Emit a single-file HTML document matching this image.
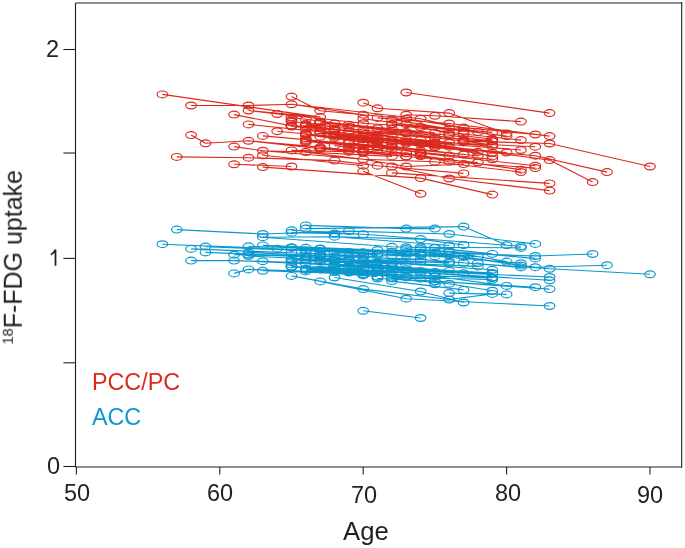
<!DOCTYPE html>
<html><head><meta charset="utf-8"><style>
html,body{margin:0;padding:0;background:#fff;}
body{width:685px;height:548px;position:relative;overflow:hidden;font-family:"Liberation Sans",sans-serif;color:#231f20;}
svg{position:absolute;left:0;top:0;}
.t{position:absolute;white-space:nowrap;line-height:1;will-change:transform;}
</style></head><body>
<svg width="685" height="548" viewBox="0 0 685 548"><rect width="685" height="548" fill="#fff"/><path d="M162.4 94.4L320.2 117.1M191.1 105.5L248.5 105.5M248.5 105.5L291.5 104.3M234.1 114.6L291.5 125.9M191.1 135.1L205.5 143.3M205.5 143.3L248.5 140.8M234.1 146.6L262.8 150.7M176.8 156.9L248.5 157.7M234.1 164.3L291.5 166.5M406.2 92.5L549.6 113.1M549.6 143.5L650.0 166.5M535.3 155.7L607.0 172.1M549.6 160.1L592.6 182.1M363.2 171.3L420.6 193.8M420.6 178.1L492.3 194.6M449.2 178.5L549.6 190.6M391.9 172.9L549.6 183.4M291.5 96.6L320.2 110.7M363.2 102.7L377.5 108.3M377.5 108.3L449.2 113.1M248.5 110.5L277.2 114.0M248.5 124.4L363.2 136.1M248.5 140.8L320.2 148.8M248.5 157.7L334.5 160.6M262.8 135.9L363.2 144.8M262.8 150.7L363.2 159.3M262.8 155.3L363.2 165.7M262.8 167.1L420.6 178.1M277.2 114.0L363.2 123.2M277.2 131.2L363.2 139.2M291.5 104.3L420.6 118.7M291.5 117.5L348.9 124.7M291.5 125.6L334.5 128.9M291.5 150.4L348.9 151.8M305.8 124.0L363.2 130.3M305.8 124.6L334.5 129.2M305.8 126.1L363.2 132.3M305.8 129.0L377.5 136.2M305.8 133.8L377.5 140.8M305.8 134.9L377.5 141.8M305.8 139.9L377.5 147.3M305.8 140.8L377.5 146.3M305.8 141.4L391.9 149.2M305.8 152.0L391.9 156.4M320.2 110.7L363.2 114.7M320.2 121.7L377.5 128.2M320.2 121.8L391.9 128.8M320.2 121.9L406.2 133.2M320.2 122.7L449.2 135.3M320.2 127.3L348.9 131.3M320.2 127.4L391.9 136.4M320.2 132.1L391.9 140.1M320.2 133.2L377.5 139.6M320.2 136.7L363.2 142.0M320.2 147.1L363.2 152.0M320.2 148.2L363.2 152.8M320.2 148.8L348.9 150.0M334.5 129.2L377.5 135.5M334.5 129.3L434.9 138.1M334.5 134.8L377.5 140.3M334.5 135.4L391.9 141.3M334.5 136.4L391.9 143.2M334.5 138.0L434.9 146.8M334.5 145.6L406.2 153.2M334.5 160.6L377.5 165.7M348.9 124.7L406.2 131.9M348.9 131.3L434.9 142.5M348.9 143.0L391.9 146.9M348.9 143.4L391.9 146.4M348.9 146.7L420.6 155.5M348.9 147.7L377.5 150.0M348.9 150.0L406.2 156.4M363.2 114.7L406.2 118.7M363.2 118.7L406.2 124.2M363.2 123.2L420.6 127.0M363.2 130.3L434.9 137.8M363.2 136.1L420.6 143.2M363.2 139.2L406.2 142.6M363.2 142.0L420.6 150.9M363.2 144.8L420.6 152.4M363.2 150.8L420.6 156.0M363.2 152.8L406.2 156.5M363.2 159.3L406.2 166.5M377.5 117.9L449.2 123.5M377.5 135.5L420.6 139.9M377.5 137.8L434.9 144.3M377.5 140.3L406.2 141.5M377.5 141.8L477.9 151.8M377.5 146.3L463.6 154.5M377.5 147.3L449.2 155.6M377.5 165.7L463.6 173.4M391.9 119.5L449.2 128.9M391.9 124.0L463.6 130.9M391.9 124.5L463.6 134.0M391.9 128.8L434.9 132.8M391.9 136.4L434.9 143.2M391.9 140.1L434.9 145.4M391.9 141.3L434.9 147.2M391.9 143.2L420.6 144.6M391.9 146.4L477.9 156.0M391.9 166.5L449.2 178.5M406.2 114.7L434.9 115.8M406.2 118.7L463.6 127.6M406.2 124.2L492.3 132.4M406.2 131.9L463.6 139.6M406.2 133.2L463.6 141.2M406.2 142.6L449.2 146.7M406.2 143.6L449.2 142.7M406.2 156.5L477.9 162.5M406.2 166.5L463.6 164.1M420.6 118.7L477.9 131.9M420.6 127.0L449.2 133.7M420.6 139.9L492.3 146.4M420.6 144.6L506.6 152.5M420.6 152.4L492.3 159.3M420.6 153.3L535.3 165.7M420.6 155.5L520.9 169.7M420.6 156.0L449.2 161.7M434.9 115.8L520.9 121.6M434.9 137.8L492.3 144.7M434.9 143.2L520.9 150.0M434.9 144.3L492.3 152.8M434.9 145.4L492.3 156.4M434.9 147.2L535.3 155.7M434.9 161.7L520.9 172.1M449.2 113.1L506.6 133.5M449.2 123.5L549.6 136.1M449.2 128.9L506.6 136.1M449.2 133.7L492.3 139.3M449.2 135.3L492.3 141.2M449.2 142.7L535.3 146.7M449.2 146.7L549.6 160.1M449.2 161.7L535.3 168.1M463.6 127.6L535.3 134.5M463.6 134.0L520.9 140.1M463.6 139.6L492.3 140.9M463.6 141.1L549.6 143.5M463.6 141.5L492.3 139.4M248.5 110.5L320.2 117.1M248.5 140.8L320.2 147.1M262.8 150.7L305.8 152.0M291.5 104.3L363.2 114.7M291.5 121.7L348.9 126.8M291.5 126.5L348.9 131.3M291.5 150.4L363.2 159.3M305.8 141.4L377.5 146.3M320.2 148.8L363.2 152.8M348.9 140.9L420.6 144.6M363.2 130.3L406.2 133.2M363.2 132.3L434.9 137.8M363.2 136.1L434.9 143.2M363.2 159.3L434.9 161.7M391.9 124.5L449.2 128.9M391.9 149.2L449.2 155.6" stroke="#dc2a1f" stroke-width="1.1" fill="none"/>
<g stroke="#dc2a1f" stroke-width="1.2" fill="none"><ellipse cx="162.4" cy="94.4" rx="5.3" ry="3.4"/><ellipse cx="176.8" cy="156.9" rx="5.3" ry="3.4"/><ellipse cx="191.1" cy="105.5" rx="5.3" ry="3.4"/><ellipse cx="191.1" cy="135.1" rx="5.3" ry="3.4"/><ellipse cx="205.5" cy="143.3" rx="5.3" ry="3.4"/><ellipse cx="234.1" cy="114.6" rx="5.3" ry="3.4"/><ellipse cx="234.1" cy="146.6" rx="5.3" ry="3.4"/><ellipse cx="234.1" cy="164.3" rx="5.3" ry="3.4"/><ellipse cx="248.5" cy="105.5" rx="5.3" ry="3.4"/><ellipse cx="248.5" cy="110.5" rx="5.3" ry="3.4"/><ellipse cx="248.5" cy="124.4" rx="5.3" ry="3.4"/><ellipse cx="248.5" cy="140.8" rx="5.3" ry="3.4"/><ellipse cx="248.5" cy="157.7" rx="5.3" ry="3.4"/><ellipse cx="262.8" cy="135.9" rx="5.3" ry="3.4"/><ellipse cx="262.8" cy="150.7" rx="5.3" ry="3.4"/><ellipse cx="262.8" cy="155.3" rx="5.3" ry="3.4"/><ellipse cx="262.8" cy="167.1" rx="5.3" ry="3.4"/><ellipse cx="277.2" cy="114.0" rx="5.3" ry="3.4"/><ellipse cx="277.2" cy="131.2" rx="5.3" ry="3.4"/><ellipse cx="291.5" cy="96.6" rx="5.3" ry="3.4"/><ellipse cx="291.5" cy="104.3" rx="5.3" ry="3.4"/><ellipse cx="291.5" cy="117.5" rx="5.3" ry="3.4"/><ellipse cx="291.5" cy="119.3" rx="5.3" ry="3.4"/><ellipse cx="291.5" cy="120.6" rx="5.3" ry="3.4"/><ellipse cx="291.5" cy="121.7" rx="5.3" ry="3.4"/><ellipse cx="291.5" cy="125.6" rx="5.3" ry="3.4"/><ellipse cx="291.5" cy="125.9" rx="5.3" ry="3.4"/><ellipse cx="291.5" cy="126.5" rx="5.3" ry="3.4"/><ellipse cx="291.5" cy="150.4" rx="5.3" ry="3.4"/><ellipse cx="291.5" cy="166.5" rx="5.3" ry="3.4"/><ellipse cx="305.8" cy="119.5" rx="5.3" ry="3.4"/><ellipse cx="305.8" cy="124.0" rx="5.3" ry="3.4"/><ellipse cx="305.8" cy="124.6" rx="5.3" ry="3.4"/><ellipse cx="305.8" cy="126.1" rx="5.3" ry="3.4"/><ellipse cx="305.8" cy="129.0" rx="5.3" ry="3.4"/><ellipse cx="305.8" cy="133.5" rx="5.3" ry="3.4"/><ellipse cx="305.8" cy="133.8" rx="5.3" ry="3.4"/><ellipse cx="305.8" cy="133.9" rx="5.3" ry="3.4"/><ellipse cx="305.8" cy="134.9" rx="5.3" ry="3.4"/><ellipse cx="305.8" cy="138.3" rx="5.3" ry="3.4"/><ellipse cx="305.8" cy="139.9" rx="5.3" ry="3.4"/><ellipse cx="305.8" cy="140.8" rx="5.3" ry="3.4"/><ellipse cx="305.8" cy="141.4" rx="5.3" ry="3.4"/><ellipse cx="305.8" cy="142.4" rx="5.3" ry="3.4"/><ellipse cx="305.8" cy="152.0" rx="5.3" ry="3.4"/><ellipse cx="320.2" cy="110.7" rx="5.3" ry="3.4"/><ellipse cx="320.2" cy="117.1" rx="5.3" ry="3.4"/><ellipse cx="320.2" cy="121.7" rx="5.3" ry="3.4"/><ellipse cx="320.2" cy="121.8" rx="5.3" ry="3.4"/><ellipse cx="320.2" cy="121.9" rx="5.3" ry="3.4"/><ellipse cx="320.2" cy="122.7" rx="5.3" ry="3.4"/><ellipse cx="320.2" cy="127.3" rx="5.3" ry="3.4"/><ellipse cx="320.2" cy="127.4" rx="5.3" ry="3.4"/><ellipse cx="320.2" cy="132.1" rx="5.3" ry="3.4"/><ellipse cx="320.2" cy="133.2" rx="5.3" ry="3.4"/><ellipse cx="320.2" cy="136.7" rx="5.3" ry="3.4"/><ellipse cx="320.2" cy="147.1" rx="5.3" ry="3.4"/><ellipse cx="320.2" cy="148.2" rx="5.3" ry="3.4"/><ellipse cx="320.2" cy="148.4" rx="5.3" ry="3.4"/><ellipse cx="320.2" cy="148.8" rx="5.3" ry="3.4"/><ellipse cx="334.5" cy="123.6" rx="5.3" ry="3.4"/><ellipse cx="334.5" cy="128.9" rx="5.3" ry="3.4"/><ellipse cx="334.5" cy="129.2" rx="5.3" ry="3.4"/><ellipse cx="334.5" cy="129.3" rx="5.3" ry="3.4"/><ellipse cx="334.5" cy="130.8" rx="5.3" ry="3.4"/><ellipse cx="334.5" cy="134.8" rx="5.3" ry="3.4"/><ellipse cx="334.5" cy="135.4" rx="5.3" ry="3.4"/><ellipse cx="334.5" cy="136.4" rx="5.3" ry="3.4"/><ellipse cx="334.5" cy="138.0" rx="5.3" ry="3.4"/><ellipse cx="334.5" cy="145.6" rx="5.3" ry="3.4"/><ellipse cx="334.5" cy="160.6" rx="5.3" ry="3.4"/><ellipse cx="348.9" cy="124.7" rx="5.3" ry="3.4"/><ellipse cx="348.9" cy="126.8" rx="5.3" ry="3.4"/><ellipse cx="348.9" cy="131.3" rx="5.3" ry="3.4"/><ellipse cx="348.9" cy="134.1" rx="5.3" ry="3.4"/><ellipse cx="348.9" cy="140.9" rx="5.3" ry="3.4"/><ellipse cx="348.9" cy="143.0" rx="5.3" ry="3.4"/><ellipse cx="348.9" cy="143.4" rx="5.3" ry="3.4"/><ellipse cx="348.9" cy="146.7" rx="5.3" ry="3.4"/><ellipse cx="348.9" cy="147.7" rx="5.3" ry="3.4"/><ellipse cx="348.9" cy="150.0" rx="5.3" ry="3.4"/><ellipse cx="348.9" cy="151.8" rx="5.3" ry="3.4"/><ellipse cx="363.2" cy="102.7" rx="5.3" ry="3.4"/><ellipse cx="363.2" cy="114.7" rx="5.3" ry="3.4"/><ellipse cx="363.2" cy="118.7" rx="5.3" ry="3.4"/><ellipse cx="363.2" cy="123.2" rx="5.3" ry="3.4"/><ellipse cx="363.2" cy="130.3" rx="5.3" ry="3.4"/><ellipse cx="363.2" cy="132.3" rx="5.3" ry="3.4"/><ellipse cx="363.2" cy="136.1" rx="5.3" ry="3.4"/><ellipse cx="363.2" cy="139.2" rx="5.3" ry="3.4"/><ellipse cx="363.2" cy="142.0" rx="5.3" ry="3.4"/><ellipse cx="363.2" cy="144.8" rx="5.3" ry="3.4"/><ellipse cx="363.2" cy="149.1" rx="5.3" ry="3.4"/><ellipse cx="363.2" cy="150.8" rx="5.3" ry="3.4"/><ellipse cx="363.2" cy="152.0" rx="5.3" ry="3.4"/><ellipse cx="363.2" cy="152.8" rx="5.3" ry="3.4"/><ellipse cx="363.2" cy="159.3" rx="5.3" ry="3.4"/><ellipse cx="363.2" cy="165.7" rx="5.3" ry="3.4"/><ellipse cx="363.2" cy="171.3" rx="5.3" ry="3.4"/><ellipse cx="377.5" cy="108.3" rx="5.3" ry="3.4"/><ellipse cx="377.5" cy="117.9" rx="5.3" ry="3.4"/><ellipse cx="377.5" cy="128.2" rx="5.3" ry="3.4"/><ellipse cx="377.5" cy="135.5" rx="5.3" ry="3.4"/><ellipse cx="377.5" cy="136.2" rx="5.3" ry="3.4"/><ellipse cx="377.5" cy="137.8" rx="5.3" ry="3.4"/><ellipse cx="377.5" cy="139.6" rx="5.3" ry="3.4"/><ellipse cx="377.5" cy="140.3" rx="5.3" ry="3.4"/><ellipse cx="377.5" cy="140.8" rx="5.3" ry="3.4"/><ellipse cx="377.5" cy="141.8" rx="5.3" ry="3.4"/><ellipse cx="377.5" cy="146.3" rx="5.3" ry="3.4"/><ellipse cx="377.5" cy="147.3" rx="5.3" ry="3.4"/><ellipse cx="377.5" cy="150.0" rx="5.3" ry="3.4"/><ellipse cx="377.5" cy="165.7" rx="5.3" ry="3.4"/><ellipse cx="391.9" cy="119.5" rx="5.3" ry="3.4"/><ellipse cx="391.9" cy="124.0" rx="5.3" ry="3.4"/><ellipse cx="391.9" cy="124.5" rx="5.3" ry="3.4"/><ellipse cx="391.9" cy="128.8" rx="5.3" ry="3.4"/><ellipse cx="391.9" cy="136.4" rx="5.3" ry="3.4"/><ellipse cx="391.9" cy="140.1" rx="5.3" ry="3.4"/><ellipse cx="391.9" cy="141.3" rx="5.3" ry="3.4"/><ellipse cx="391.9" cy="143.2" rx="5.3" ry="3.4"/><ellipse cx="391.9" cy="146.4" rx="5.3" ry="3.4"/><ellipse cx="391.9" cy="146.9" rx="5.3" ry="3.4"/><ellipse cx="391.9" cy="149.2" rx="5.3" ry="3.4"/><ellipse cx="391.9" cy="156.4" rx="5.3" ry="3.4"/><ellipse cx="391.9" cy="166.5" rx="5.3" ry="3.4"/><ellipse cx="391.9" cy="172.9" rx="5.3" ry="3.4"/><ellipse cx="406.2" cy="92.5" rx="5.3" ry="3.4"/><ellipse cx="406.2" cy="114.7" rx="5.3" ry="3.4"/><ellipse cx="406.2" cy="118.7" rx="5.3" ry="3.4"/><ellipse cx="406.2" cy="124.2" rx="5.3" ry="3.4"/><ellipse cx="406.2" cy="131.9" rx="5.3" ry="3.4"/><ellipse cx="406.2" cy="133.2" rx="5.3" ry="3.4"/><ellipse cx="406.2" cy="139.6" rx="5.3" ry="3.4"/><ellipse cx="406.2" cy="141.5" rx="5.3" ry="3.4"/><ellipse cx="406.2" cy="142.6" rx="5.3" ry="3.4"/><ellipse cx="406.2" cy="143.6" rx="5.3" ry="3.4"/><ellipse cx="406.2" cy="153.2" rx="5.3" ry="3.4"/><ellipse cx="406.2" cy="156.4" rx="5.3" ry="3.4"/><ellipse cx="406.2" cy="156.5" rx="5.3" ry="3.4"/><ellipse cx="406.2" cy="166.5" rx="5.3" ry="3.4"/><ellipse cx="420.6" cy="118.7" rx="5.3" ry="3.4"/><ellipse cx="420.6" cy="127.0" rx="5.3" ry="3.4"/><ellipse cx="420.6" cy="139.9" rx="5.3" ry="3.4"/><ellipse cx="420.6" cy="143.2" rx="5.3" ry="3.4"/><ellipse cx="420.6" cy="144.6" rx="5.3" ry="3.4"/><ellipse cx="420.6" cy="150.9" rx="5.3" ry="3.4"/><ellipse cx="420.6" cy="152.4" rx="5.3" ry="3.4"/><ellipse cx="420.6" cy="153.3" rx="5.3" ry="3.4"/><ellipse cx="420.6" cy="153.7" rx="5.3" ry="3.4"/><ellipse cx="420.6" cy="155.5" rx="5.3" ry="3.4"/><ellipse cx="420.6" cy="156.0" rx="5.3" ry="3.4"/><ellipse cx="420.6" cy="178.1" rx="5.3" ry="3.4"/><ellipse cx="420.6" cy="193.8" rx="5.3" ry="3.4"/><ellipse cx="434.9" cy="115.8" rx="5.3" ry="3.4"/><ellipse cx="434.9" cy="132.8" rx="5.3" ry="3.4"/><ellipse cx="434.9" cy="137.8" rx="5.3" ry="3.4"/><ellipse cx="434.9" cy="138.1" rx="5.3" ry="3.4"/><ellipse cx="434.9" cy="142.5" rx="5.3" ry="3.4"/><ellipse cx="434.9" cy="143.2" rx="5.3" ry="3.4"/><ellipse cx="434.9" cy="144.3" rx="5.3" ry="3.4"/><ellipse cx="434.9" cy="145.4" rx="5.3" ry="3.4"/><ellipse cx="434.9" cy="146.8" rx="5.3" ry="3.4"/><ellipse cx="434.9" cy="147.2" rx="5.3" ry="3.4"/><ellipse cx="434.9" cy="161.7" rx="5.3" ry="3.4"/><ellipse cx="449.2" cy="113.1" rx="5.3" ry="3.4"/><ellipse cx="449.2" cy="123.5" rx="5.3" ry="3.4"/><ellipse cx="449.2" cy="128.9" rx="5.3" ry="3.4"/><ellipse cx="449.2" cy="133.7" rx="5.3" ry="3.4"/><ellipse cx="449.2" cy="135.3" rx="5.3" ry="3.4"/><ellipse cx="449.2" cy="142.7" rx="5.3" ry="3.4"/><ellipse cx="449.2" cy="146.7" rx="5.3" ry="3.4"/><ellipse cx="449.2" cy="155.6" rx="5.3" ry="3.4"/><ellipse cx="449.2" cy="161.7" rx="5.3" ry="3.4"/><ellipse cx="449.2" cy="178.5" rx="5.3" ry="3.4"/><ellipse cx="463.6" cy="127.6" rx="5.3" ry="3.4"/><ellipse cx="463.6" cy="130.9" rx="5.3" ry="3.4"/><ellipse cx="463.6" cy="134.0" rx="5.3" ry="3.4"/><ellipse cx="463.6" cy="139.6" rx="5.3" ry="3.4"/><ellipse cx="463.6" cy="141.1" rx="5.3" ry="3.4"/><ellipse cx="463.6" cy="141.2" rx="5.3" ry="3.4"/><ellipse cx="463.6" cy="141.5" rx="5.3" ry="3.4"/><ellipse cx="463.6" cy="142.4" rx="5.3" ry="3.4"/><ellipse cx="463.6" cy="154.5" rx="5.3" ry="3.4"/><ellipse cx="463.6" cy="164.1" rx="5.3" ry="3.4"/><ellipse cx="463.6" cy="173.4" rx="5.3" ry="3.4"/><ellipse cx="477.9" cy="131.9" rx="5.3" ry="3.4"/><ellipse cx="477.9" cy="151.8" rx="5.3" ry="3.4"/><ellipse cx="477.9" cy="156.0" rx="5.3" ry="3.4"/><ellipse cx="477.9" cy="162.5" rx="5.3" ry="3.4"/><ellipse cx="492.3" cy="132.4" rx="5.3" ry="3.4"/><ellipse cx="492.3" cy="139.3" rx="5.3" ry="3.4"/><ellipse cx="492.3" cy="139.4" rx="5.3" ry="3.4"/><ellipse cx="492.3" cy="140.9" rx="5.3" ry="3.4"/><ellipse cx="492.3" cy="141.2" rx="5.3" ry="3.4"/><ellipse cx="492.3" cy="144.7" rx="5.3" ry="3.4"/><ellipse cx="492.3" cy="146.4" rx="5.3" ry="3.4"/><ellipse cx="492.3" cy="152.8" rx="5.3" ry="3.4"/><ellipse cx="492.3" cy="156.4" rx="5.3" ry="3.4"/><ellipse cx="492.3" cy="159.3" rx="5.3" ry="3.4"/><ellipse cx="492.3" cy="194.6" rx="5.3" ry="3.4"/><ellipse cx="506.6" cy="133.5" rx="5.3" ry="3.4"/><ellipse cx="506.6" cy="136.1" rx="5.3" ry="3.4"/><ellipse cx="506.6" cy="152.5" rx="5.3" ry="3.4"/><ellipse cx="520.9" cy="121.6" rx="5.3" ry="3.4"/><ellipse cx="520.9" cy="140.1" rx="5.3" ry="3.4"/><ellipse cx="520.9" cy="150.0" rx="5.3" ry="3.4"/><ellipse cx="520.9" cy="169.7" rx="5.3" ry="3.4"/><ellipse cx="520.9" cy="172.1" rx="5.3" ry="3.4"/><ellipse cx="535.3" cy="134.5" rx="5.3" ry="3.4"/><ellipse cx="535.3" cy="146.7" rx="5.3" ry="3.4"/><ellipse cx="535.3" cy="155.7" rx="5.3" ry="3.4"/><ellipse cx="535.3" cy="165.7" rx="5.3" ry="3.4"/><ellipse cx="535.3" cy="168.1" rx="5.3" ry="3.4"/><ellipse cx="549.6" cy="113.1" rx="5.3" ry="3.4"/><ellipse cx="549.6" cy="136.1" rx="5.3" ry="3.4"/><ellipse cx="549.6" cy="143.5" rx="5.3" ry="3.4"/><ellipse cx="549.6" cy="160.1" rx="5.3" ry="3.4"/><ellipse cx="549.6" cy="183.4" rx="5.3" ry="3.4"/><ellipse cx="549.6" cy="190.6" rx="5.3" ry="3.4"/><ellipse cx="592.6" cy="182.1" rx="5.3" ry="3.4"/><ellipse cx="607.0" cy="172.1" rx="5.3" ry="3.4"/><ellipse cx="650.0" cy="166.5" rx="5.3" ry="3.4"/></g><path d="M176.8 229.6L262.8 234.0M191.1 260.6L234.1 260.6M234.1 273.4L248.5 269.4M363.2 310.8L420.6 318.0M535.3 256.0L592.6 254.0M535.3 267.2L607.0 265.2M549.6 268.8L650.0 274.3M463.6 226.6L506.6 245.2M406.2 228.6L434.9 228.6M305.8 225.4L406.2 228.6M449.2 234.0L535.3 243.9M363.2 234.3L520.9 246.3M305.8 228.6L463.6 226.6M262.8 234.0L348.9 231.1M291.5 230.3L363.2 234.3M320.2 281.4L406.2 298.7M291.5 275.9L363.2 289.1M363.2 289.1L449.2 299.5M334.5 277.5L420.6 291.5M420.6 291.5L463.6 302.5M391.9 281.1L463.6 289.9M449.2 293.1L506.6 294.4M162.4 244.2L277.2 248.7M191.1 248.9L291.5 252.8M205.5 246.6L320.2 251.3M205.5 252.4L320.2 257.1M234.1 254.7L305.8 256.1M234.1 260.6L305.8 263.6M248.5 246.3L320.2 248.6M248.5 252.4L334.5 256.5M248.5 254.5L305.8 256.9M248.5 256.0L334.5 260.2M248.5 269.4L363.2 274.7M262.8 237.2L391.9 246.8M262.8 245.4L377.5 250.0M262.8 261.2L334.5 264.2M262.8 270.8L363.2 274.1M277.2 248.7L363.2 252.3M291.5 232.7L334.5 233.5M291.5 247.9L348.9 252.0M291.5 259.3L348.9 261.3M291.5 260.7L320.2 260.6M291.5 262.2L348.9 265.9M291.5 266.6L334.5 269.4M291.5 266.9L334.5 267.1M291.5 267.0L377.5 272.2M305.8 247.8L391.9 251.7M305.8 250.6L406.2 255.1M305.8 253.2L363.2 255.7M305.8 256.9L348.9 260.3M305.8 257.2L348.9 259.5M305.8 259.5L377.5 262.6M305.8 260.4L363.2 263.7M305.8 268.8L363.2 272.4M305.8 269.9L348.9 272.5M305.8 271.4L363.2 275.4M320.2 248.7L377.5 253.7M320.2 253.7L363.2 256.7M320.2 255.8L363.2 261.1M320.2 259.2L363.2 260.2M320.2 260.6L391.9 262.9M320.2 261.5L377.5 262.2M320.2 269.4L363.2 268.9M334.5 236.7L420.6 239.1M334.5 252.4L377.5 255.1M334.5 256.5L420.6 259.4M334.5 264.2L391.9 265.8M334.5 266.3L406.2 269.2M334.5 269.4L391.9 270.9M334.5 269.8L406.2 272.6M334.5 272.0L377.5 276.7M348.9 231.1L449.2 234.0M348.9 260.5L406.2 264.3M348.9 265.9L391.9 267.1M348.9 266.9L420.6 270.9M348.9 271.1L391.9 274.4M348.9 272.0L434.9 276.3M348.9 272.5L406.2 276.6M363.2 256.7L391.9 255.5M363.2 260.2L420.6 261.6M363.2 274.1L406.2 277.4M377.5 250.0L434.9 252.7M377.5 253.7L420.6 255.1M377.5 262.2L477.9 266.4M377.5 262.6L449.2 261.7M377.5 267.5L449.2 270.9M377.5 272.2L434.9 273.3M377.5 278.5L434.9 281.1M391.9 246.8L434.9 247.9M391.9 251.7L420.6 253.8M391.9 255.5L434.9 256.2M391.9 262.9L492.3 269.8M391.9 265.8L434.9 271.9M391.9 267.1L492.3 273.0M391.9 274.4L492.3 278.0M391.9 277.6L420.6 278.6M391.9 278.6L449.2 283.7M406.2 248.9L449.2 251.2M406.2 269.2L492.3 273.8M406.2 276.6L492.3 279.7M406.2 298.7L549.6 306.0M420.6 239.1L463.6 245.0M420.6 247.2L520.9 247.9M420.6 252.4L449.2 255.1M420.6 255.1L463.6 256.9M420.6 259.4L463.6 262.8M420.6 261.6L449.2 263.1M420.6 270.9L463.6 273.3M420.6 272.5L492.3 277.6M420.6 278.6L492.3 277.8M434.9 247.9L492.3 253.9M434.9 252.7L535.3 256.0M434.9 253.6L477.9 256.6M434.9 256.2L520.9 263.2M434.9 271.9L549.6 277.0M434.9 273.3L549.6 280.3M434.9 276.3L506.6 285.9M434.9 281.1L549.6 289.1M434.9 281.4L535.3 287.2M449.2 251.2L535.3 258.4M449.2 251.5L506.6 261.6M449.2 255.1L520.9 265.6M449.2 261.7L520.9 267.4M449.2 283.7L492.3 290.7M449.2 299.5L492.3 293.9M463.6 256.9L535.3 267.2M463.6 262.8L549.6 268.8M205.5 252.4L305.8 256.1M234.1 260.6L291.5 262.2M248.5 246.3L320.2 248.7M248.5 252.4L320.2 255.8M248.5 269.4L348.9 272.5M262.8 237.2L334.5 236.7M262.8 270.8L334.5 272.0M277.2 248.7L348.9 252.0M291.5 232.7L363.2 234.3M291.5 252.8L363.2 256.7M291.5 260.7L377.5 262.2M291.5 262.2L391.9 267.1M291.5 266.9L334.5 269.4M291.5 267.0L363.2 268.9M305.8 260.4L391.9 262.9M305.8 263.6L406.2 269.2M320.2 248.6L406.2 253.4M320.2 261.5L406.2 264.3M334.5 236.7L449.2 245.5M334.5 269.4L434.9 271.9M348.9 272.5L420.6 278.6M363.2 260.2L420.6 259.4M363.2 261.1L449.2 261.7M363.2 263.7L449.2 270.9M377.5 250.0L449.2 251.5M377.5 253.7L449.2 255.1M377.5 272.2L420.6 272.5M377.5 278.5L434.9 281.4M391.9 274.4L434.9 276.3" stroke="#0b98cf" stroke-width="1.1" fill="none"/>
<g stroke="#0b98cf" stroke-width="1.2" fill="none"><ellipse cx="162.4" cy="244.2" rx="5.3" ry="3.4"/><ellipse cx="176.8" cy="229.6" rx="5.3" ry="3.4"/><ellipse cx="191.1" cy="248.9" rx="5.3" ry="3.4"/><ellipse cx="191.1" cy="260.6" rx="5.3" ry="3.4"/><ellipse cx="205.5" cy="246.6" rx="5.3" ry="3.4"/><ellipse cx="205.5" cy="252.4" rx="5.3" ry="3.4"/><ellipse cx="234.1" cy="254.7" rx="5.3" ry="3.4"/><ellipse cx="234.1" cy="260.6" rx="5.3" ry="3.4"/><ellipse cx="234.1" cy="273.4" rx="5.3" ry="3.4"/><ellipse cx="248.5" cy="246.3" rx="5.3" ry="3.4"/><ellipse cx="248.5" cy="252.4" rx="5.3" ry="3.4"/><ellipse cx="248.5" cy="254.5" rx="5.3" ry="3.4"/><ellipse cx="248.5" cy="256.0" rx="5.3" ry="3.4"/><ellipse cx="248.5" cy="269.4" rx="5.3" ry="3.4"/><ellipse cx="262.8" cy="234.0" rx="5.3" ry="3.4"/><ellipse cx="262.8" cy="237.2" rx="5.3" ry="3.4"/><ellipse cx="262.8" cy="245.4" rx="5.3" ry="3.4"/><ellipse cx="262.8" cy="261.2" rx="5.3" ry="3.4"/><ellipse cx="262.8" cy="270.8" rx="5.3" ry="3.4"/><ellipse cx="277.2" cy="248.7" rx="5.3" ry="3.4"/><ellipse cx="291.5" cy="230.3" rx="5.3" ry="3.4"/><ellipse cx="291.5" cy="232.7" rx="5.3" ry="3.4"/><ellipse cx="291.5" cy="247.2" rx="5.3" ry="3.4"/><ellipse cx="291.5" cy="247.9" rx="5.3" ry="3.4"/><ellipse cx="291.5" cy="252.8" rx="5.3" ry="3.4"/><ellipse cx="291.5" cy="259.3" rx="5.3" ry="3.4"/><ellipse cx="291.5" cy="260.7" rx="5.3" ry="3.4"/><ellipse cx="291.5" cy="262.2" rx="5.3" ry="3.4"/><ellipse cx="291.5" cy="264.4" rx="5.3" ry="3.4"/><ellipse cx="291.5" cy="266.6" rx="5.3" ry="3.4"/><ellipse cx="291.5" cy="266.9" rx="5.3" ry="3.4"/><ellipse cx="291.5" cy="267.0" rx="5.3" ry="3.4"/><ellipse cx="291.5" cy="275.9" rx="5.3" ry="3.4"/><ellipse cx="305.8" cy="225.4" rx="5.3" ry="3.4"/><ellipse cx="305.8" cy="228.6" rx="5.3" ry="3.4"/><ellipse cx="305.8" cy="247.8" rx="5.3" ry="3.4"/><ellipse cx="305.8" cy="250.6" rx="5.3" ry="3.4"/><ellipse cx="305.8" cy="253.2" rx="5.3" ry="3.4"/><ellipse cx="305.8" cy="256.1" rx="5.3" ry="3.4"/><ellipse cx="305.8" cy="256.9" rx="5.3" ry="3.4"/><ellipse cx="305.8" cy="257.2" rx="5.3" ry="3.4"/><ellipse cx="305.8" cy="259.5" rx="5.3" ry="3.4"/><ellipse cx="305.8" cy="260.4" rx="5.3" ry="3.4"/><ellipse cx="305.8" cy="263.6" rx="5.3" ry="3.4"/><ellipse cx="305.8" cy="268.8" rx="5.3" ry="3.4"/><ellipse cx="305.8" cy="269.9" rx="5.3" ry="3.4"/><ellipse cx="305.8" cy="271.4" rx="5.3" ry="3.4"/><ellipse cx="320.2" cy="248.6" rx="5.3" ry="3.4"/><ellipse cx="320.2" cy="248.7" rx="5.3" ry="3.4"/><ellipse cx="320.2" cy="251.3" rx="5.3" ry="3.4"/><ellipse cx="320.2" cy="253.7" rx="5.3" ry="3.4"/><ellipse cx="320.2" cy="255.6" rx="5.3" ry="3.4"/><ellipse cx="320.2" cy="255.8" rx="5.3" ry="3.4"/><ellipse cx="320.2" cy="257.1" rx="5.3" ry="3.4"/><ellipse cx="320.2" cy="259.2" rx="5.3" ry="3.4"/><ellipse cx="320.2" cy="260.6" rx="5.3" ry="3.4"/><ellipse cx="320.2" cy="261.5" rx="5.3" ry="3.4"/><ellipse cx="320.2" cy="269.4" rx="5.3" ry="3.4"/><ellipse cx="320.2" cy="281.4" rx="5.3" ry="3.4"/><ellipse cx="334.5" cy="233.5" rx="5.3" ry="3.4"/><ellipse cx="334.5" cy="236.7" rx="5.3" ry="3.4"/><ellipse cx="334.5" cy="252.4" rx="5.3" ry="3.4"/><ellipse cx="334.5" cy="256.5" rx="5.3" ry="3.4"/><ellipse cx="334.5" cy="260.2" rx="5.3" ry="3.4"/><ellipse cx="334.5" cy="264.2" rx="5.3" ry="3.4"/><ellipse cx="334.5" cy="265.6" rx="5.3" ry="3.4"/><ellipse cx="334.5" cy="266.3" rx="5.3" ry="3.4"/><ellipse cx="334.5" cy="267.0" rx="5.3" ry="3.4"/><ellipse cx="334.5" cy="267.1" rx="5.3" ry="3.4"/><ellipse cx="334.5" cy="269.4" rx="5.3" ry="3.4"/><ellipse cx="334.5" cy="269.8" rx="5.3" ry="3.4"/><ellipse cx="334.5" cy="272.0" rx="5.3" ry="3.4"/><ellipse cx="334.5" cy="277.5" rx="5.3" ry="3.4"/><ellipse cx="348.9" cy="231.1" rx="5.3" ry="3.4"/><ellipse cx="348.9" cy="252.0" rx="5.3" ry="3.4"/><ellipse cx="348.9" cy="259.5" rx="5.3" ry="3.4"/><ellipse cx="348.9" cy="260.3" rx="5.3" ry="3.4"/><ellipse cx="348.9" cy="260.5" rx="5.3" ry="3.4"/><ellipse cx="348.9" cy="261.3" rx="5.3" ry="3.4"/><ellipse cx="348.9" cy="265.9" rx="5.3" ry="3.4"/><ellipse cx="348.9" cy="266.9" rx="5.3" ry="3.4"/><ellipse cx="348.9" cy="271.1" rx="5.3" ry="3.4"/><ellipse cx="348.9" cy="272.0" rx="5.3" ry="3.4"/><ellipse cx="348.9" cy="272.5" rx="5.3" ry="3.4"/><ellipse cx="363.2" cy="234.3" rx="5.3" ry="3.4"/><ellipse cx="363.2" cy="252.3" rx="5.3" ry="3.4"/><ellipse cx="363.2" cy="255.7" rx="5.3" ry="3.4"/><ellipse cx="363.2" cy="256.7" rx="5.3" ry="3.4"/><ellipse cx="363.2" cy="260.2" rx="5.3" ry="3.4"/><ellipse cx="363.2" cy="261.1" rx="5.3" ry="3.4"/><ellipse cx="363.2" cy="263.7" rx="5.3" ry="3.4"/><ellipse cx="363.2" cy="268.9" rx="5.3" ry="3.4"/><ellipse cx="363.2" cy="272.4" rx="5.3" ry="3.4"/><ellipse cx="363.2" cy="274.1" rx="5.3" ry="3.4"/><ellipse cx="363.2" cy="274.7" rx="5.3" ry="3.4"/><ellipse cx="363.2" cy="275.4" rx="5.3" ry="3.4"/><ellipse cx="363.2" cy="289.1" rx="5.3" ry="3.4"/><ellipse cx="363.2" cy="310.8" rx="5.3" ry="3.4"/><ellipse cx="377.5" cy="250.0" rx="5.3" ry="3.4"/><ellipse cx="377.5" cy="253.7" rx="5.3" ry="3.4"/><ellipse cx="377.5" cy="255.1" rx="5.3" ry="3.4"/><ellipse cx="377.5" cy="262.2" rx="5.3" ry="3.4"/><ellipse cx="377.5" cy="262.6" rx="5.3" ry="3.4"/><ellipse cx="377.5" cy="267.5" rx="5.3" ry="3.4"/><ellipse cx="377.5" cy="269.2" rx="5.3" ry="3.4"/><ellipse cx="377.5" cy="269.4" rx="5.3" ry="3.4"/><ellipse cx="377.5" cy="272.2" rx="5.3" ry="3.4"/><ellipse cx="377.5" cy="276.7" rx="5.3" ry="3.4"/><ellipse cx="377.5" cy="276.8" rx="5.3" ry="3.4"/><ellipse cx="377.5" cy="278.5" rx="5.3" ry="3.4"/><ellipse cx="391.9" cy="246.8" rx="5.3" ry="3.4"/><ellipse cx="391.9" cy="251.7" rx="5.3" ry="3.4"/><ellipse cx="391.9" cy="255.5" rx="5.3" ry="3.4"/><ellipse cx="391.9" cy="262.9" rx="5.3" ry="3.4"/><ellipse cx="391.9" cy="265.8" rx="5.3" ry="3.4"/><ellipse cx="391.9" cy="267.1" rx="5.3" ry="3.4"/><ellipse cx="391.9" cy="270.9" rx="5.3" ry="3.4"/><ellipse cx="391.9" cy="274.4" rx="5.3" ry="3.4"/><ellipse cx="391.9" cy="277.6" rx="5.3" ry="3.4"/><ellipse cx="391.9" cy="278.6" rx="5.3" ry="3.4"/><ellipse cx="391.9" cy="281.1" rx="5.3" ry="3.4"/><ellipse cx="406.2" cy="228.6" rx="5.3" ry="3.4"/><ellipse cx="406.2" cy="247.2" rx="5.3" ry="3.4"/><ellipse cx="406.2" cy="248.9" rx="5.3" ry="3.4"/><ellipse cx="406.2" cy="252.1" rx="5.3" ry="3.4"/><ellipse cx="406.2" cy="253.4" rx="5.3" ry="3.4"/><ellipse cx="406.2" cy="255.1" rx="5.3" ry="3.4"/><ellipse cx="406.2" cy="264.3" rx="5.3" ry="3.4"/><ellipse cx="406.2" cy="269.2" rx="5.3" ry="3.4"/><ellipse cx="406.2" cy="272.6" rx="5.3" ry="3.4"/><ellipse cx="406.2" cy="276.6" rx="5.3" ry="3.4"/><ellipse cx="406.2" cy="277.4" rx="5.3" ry="3.4"/><ellipse cx="406.2" cy="298.7" rx="5.3" ry="3.4"/><ellipse cx="420.6" cy="239.1" rx="5.3" ry="3.4"/><ellipse cx="420.6" cy="247.2" rx="5.3" ry="3.4"/><ellipse cx="420.6" cy="249.1" rx="5.3" ry="3.4"/><ellipse cx="420.6" cy="252.4" rx="5.3" ry="3.4"/><ellipse cx="420.6" cy="253.8" rx="5.3" ry="3.4"/><ellipse cx="420.6" cy="255.1" rx="5.3" ry="3.4"/><ellipse cx="420.6" cy="259.4" rx="5.3" ry="3.4"/><ellipse cx="420.6" cy="261.6" rx="5.3" ry="3.4"/><ellipse cx="420.6" cy="270.9" rx="5.3" ry="3.4"/><ellipse cx="420.6" cy="272.5" rx="5.3" ry="3.4"/><ellipse cx="420.6" cy="278.6" rx="5.3" ry="3.4"/><ellipse cx="420.6" cy="291.5" rx="5.3" ry="3.4"/><ellipse cx="420.6" cy="318.0" rx="5.3" ry="3.4"/><ellipse cx="434.9" cy="228.6" rx="5.3" ry="3.4"/><ellipse cx="434.9" cy="247.8" rx="5.3" ry="3.4"/><ellipse cx="434.9" cy="247.9" rx="5.3" ry="3.4"/><ellipse cx="434.9" cy="252.7" rx="5.3" ry="3.4"/><ellipse cx="434.9" cy="253.6" rx="5.3" ry="3.4"/><ellipse cx="434.9" cy="256.2" rx="5.3" ry="3.4"/><ellipse cx="434.9" cy="271.9" rx="5.3" ry="3.4"/><ellipse cx="434.9" cy="273.3" rx="5.3" ry="3.4"/><ellipse cx="434.9" cy="276.3" rx="5.3" ry="3.4"/><ellipse cx="434.9" cy="281.1" rx="5.3" ry="3.4"/><ellipse cx="434.9" cy="281.4" rx="5.3" ry="3.4"/><ellipse cx="434.9" cy="284.3" rx="5.3" ry="3.4"/><ellipse cx="449.2" cy="234.0" rx="5.3" ry="3.4"/><ellipse cx="449.2" cy="245.5" rx="5.3" ry="3.4"/><ellipse cx="449.2" cy="251.2" rx="5.3" ry="3.4"/><ellipse cx="449.2" cy="251.5" rx="5.3" ry="3.4"/><ellipse cx="449.2" cy="255.1" rx="5.3" ry="3.4"/><ellipse cx="449.2" cy="261.7" rx="5.3" ry="3.4"/><ellipse cx="449.2" cy="263.1" rx="5.3" ry="3.4"/><ellipse cx="449.2" cy="270.9" rx="5.3" ry="3.4"/><ellipse cx="449.2" cy="283.7" rx="5.3" ry="3.4"/><ellipse cx="449.2" cy="293.1" rx="5.3" ry="3.4"/><ellipse cx="449.2" cy="299.5" rx="5.3" ry="3.4"/><ellipse cx="463.6" cy="226.6" rx="5.3" ry="3.4"/><ellipse cx="463.6" cy="245.0" rx="5.3" ry="3.4"/><ellipse cx="463.6" cy="256.9" rx="5.3" ry="3.4"/><ellipse cx="463.6" cy="262.8" rx="5.3" ry="3.4"/><ellipse cx="463.6" cy="273.3" rx="5.3" ry="3.4"/><ellipse cx="463.6" cy="289.9" rx="5.3" ry="3.4"/><ellipse cx="463.6" cy="302.5" rx="5.3" ry="3.4"/><ellipse cx="477.9" cy="256.6" rx="5.3" ry="3.4"/><ellipse cx="477.9" cy="263.0" rx="5.3" ry="3.4"/><ellipse cx="477.9" cy="266.4" rx="5.3" ry="3.4"/><ellipse cx="492.3" cy="253.9" rx="5.3" ry="3.4"/><ellipse cx="492.3" cy="269.8" rx="5.3" ry="3.4"/><ellipse cx="492.3" cy="273.0" rx="5.3" ry="3.4"/><ellipse cx="492.3" cy="273.8" rx="5.3" ry="3.4"/><ellipse cx="492.3" cy="277.6" rx="5.3" ry="3.4"/><ellipse cx="492.3" cy="277.8" rx="5.3" ry="3.4"/><ellipse cx="492.3" cy="278.0" rx="5.3" ry="3.4"/><ellipse cx="492.3" cy="279.7" rx="5.3" ry="3.4"/><ellipse cx="492.3" cy="290.7" rx="5.3" ry="3.4"/><ellipse cx="492.3" cy="293.9" rx="5.3" ry="3.4"/><ellipse cx="506.6" cy="245.2" rx="5.3" ry="3.4"/><ellipse cx="506.6" cy="261.6" rx="5.3" ry="3.4"/><ellipse cx="506.6" cy="285.9" rx="5.3" ry="3.4"/><ellipse cx="506.6" cy="294.4" rx="5.3" ry="3.4"/><ellipse cx="520.9" cy="246.3" rx="5.3" ry="3.4"/><ellipse cx="520.9" cy="247.9" rx="5.3" ry="3.4"/><ellipse cx="520.9" cy="263.2" rx="5.3" ry="3.4"/><ellipse cx="520.9" cy="265.6" rx="5.3" ry="3.4"/><ellipse cx="520.9" cy="267.4" rx="5.3" ry="3.4"/><ellipse cx="535.3" cy="243.9" rx="5.3" ry="3.4"/><ellipse cx="535.3" cy="256.0" rx="5.3" ry="3.4"/><ellipse cx="535.3" cy="258.4" rx="5.3" ry="3.4"/><ellipse cx="535.3" cy="267.2" rx="5.3" ry="3.4"/><ellipse cx="535.3" cy="287.2" rx="5.3" ry="3.4"/><ellipse cx="549.6" cy="268.8" rx="5.3" ry="3.4"/><ellipse cx="549.6" cy="277.0" rx="5.3" ry="3.4"/><ellipse cx="549.6" cy="280.3" rx="5.3" ry="3.4"/><ellipse cx="549.6" cy="289.1" rx="5.3" ry="3.4"/><ellipse cx="549.6" cy="306.0" rx="5.3" ry="3.4"/><ellipse cx="592.6" cy="254.0" rx="5.3" ry="3.4"/><ellipse cx="607.0" cy="265.2" rx="5.3" ry="3.4"/><ellipse cx="650.0" cy="274.3" rx="5.3" ry="3.4"/></g><path d="M75.5 3V466.9" stroke="#231f20" stroke-width="1.15" fill="none"/><path d="M75.5 3H682.2" stroke="#231f20" stroke-width="1.2" fill="none"/><path d="M681.7 2.3V467.6" stroke="#231f20" stroke-width="1.1" fill="none"/><path d="M75.5 467H682.2" stroke="#231f20" stroke-width="1.15" fill="none"/><path d="M63.4 49.5H75.5" stroke="#231f20" stroke-width="1.1"/><path d="M63.4 153H75.5" stroke="#231f20" stroke-width="1.1"/><path d="M63.4 258.4H75.5" stroke="#231f20" stroke-width="1.1"/><path d="M63.4 362.8H75.5" stroke="#231f20" stroke-width="1.1"/><path d="M63.4 466.5H75.5" stroke="#231f20" stroke-width="1.1"/><path d="M76.4 466.9V474.6" stroke="#231f20" stroke-width="1.1"/><path d="M219.8 466.9V474.6" stroke="#231f20" stroke-width="1.1"/><path d="M363.2 466.9V474.6" stroke="#231f20" stroke-width="1.1"/><path d="M506.6 466.9V474.6" stroke="#231f20" stroke-width="1.1"/><path d="M650.0 466.9V474.6" stroke="#231f20" stroke-width="1.1"/><path d="M50.9 254.7Q54.2 252.9 55.5 249.7V265.7" stroke="#231f20" stroke-width="1.75" fill="none"/></svg>
<div class="t" style="left:36.9px;width:80px;text-align:center;top:482.3px;font-size:23.5px">50</div>
<div class="t" style="left:180.4px;width:80px;text-align:center;top:482.3px;font-size:23.5px">60</div>
<div class="t" style="left:323.9px;width:80px;text-align:center;top:483.5px;font-size:23.5px">70</div>
<div class="t" style="left:468.1px;width:80px;text-align:center;top:482.3px;font-size:23.5px">80</div>
<div class="t" style="left:610.1px;width:80px;text-align:center;top:483.5px;font-size:23.5px">90</div>
<div class="t" style="right:625.6px;top:38.4px;font-size:23.5px">2</div>
<div class="t" style="right:625.1px;top:454.9px;font-size:23.5px">0</div>
<div class="t" style="left:342.6px;top:519.0px;font-size:25.7px">Age</div>
<div class="t" style="left:92.2px;top:371.4px;font-size:23.3px;color:#dc2a1f">PCC/PC</div>
<div class="t" style="left:92px;top:405.5px;font-size:23.3px;color:#0b98cf">ACC</div>
<div class="t" style="left:0;top:0;transform-origin:0 0;transform:translate(0.8px,344.5px) rotate(-90deg);font-size:25px"><span style="font-size:14.5px;vertical-align:9.3px">18</span>F-FDG uptake</div>
</body></html>
